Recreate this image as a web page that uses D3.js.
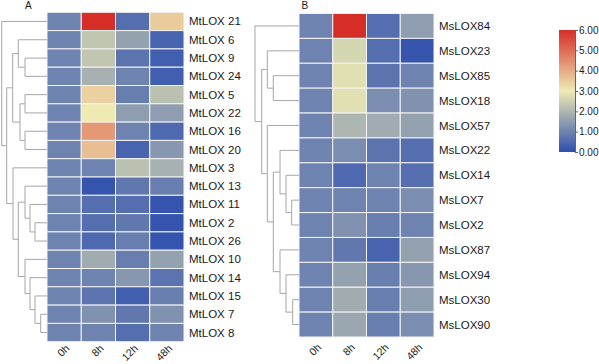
<!DOCTYPE html>
<html>
<head>
<meta charset="utf-8">
<script src="https://cdn.jsdelivr.net/npm/d3@7"></script>
<style>
  body { margin: 0; background: #fff; }
  text { font-family: "Liberation Sans", Arial, sans-serif; fill: #1a1a1a; }
</style>
</head>
<body>
<div id="chart"></div>
<script>
// time points (columns)
const times = ["0h", "8h", "12h", "48h"];

// Panel A, rows in dendrogram order
const genesA = ["MtLOX 21", "MtLOX 6", "MtLOX 9", "MtLOX 24", "MtLOX 5", "MtLOX 22",
  "MtLOX 16", "MtLOX 20", "MtLOX 3", "MtLOX 13", "MtLOX 11", "MtLOX 2", "MtLOX 26",
  "MtLOX 10", "MtLOX 14", "MtLOX 15", "MtLOX 7", "MtLOX 8"];
const valuesA = [
  [1.0, 6.0, 0.6, 3.5],
  [1.0, 2.3, 1.6, 0.4],
  [1.0, 2.3, 0.7, 0.3],
  [1.0, 1.9, 1.0, 0.3],
  [1.0, 3.4, 0.9, 2.2],
  [1.0, 3.0, 1.5, 1.5],
  [1.0, 4.3, 1.0, 0.5],
  [1.0, 3.7, 0.4, 1.4],
  [1.0, 1.0, 2.2, 1.9],
  [1.0, 0.1, 0.8, 0.9],
  [1.0, 0.6, 0.6, 0.1],
  [1.0, 0.6, 0.8, 0.1],
  [1.0, 0.5, 0.9, 0.1],
  [1.0, 1.8, 0.9, 1.6],
  [1.0, 1.0, 1.4, 0.7],
  [1.0, 0.7, 0.3, 0.9],
  [1.0, 1.3, 0.8, 1.3],
  [1.0, 1.0, 0.6, 1.0]
];
// dendrogram A: [merge height, left, right]
const treeA = [45.3, "MtLOX 21",
  [40.3,
    [34.3, [28.7, "MtLOX 6", [22, "MtLOX 9", "MtLOX 24"]],
           [27, [22, "MtLOX 5", "MtLOX 22"], [22, "MtLOX 16", "MtLOX 20"]]],
    [34, "MtLOX 3",
      [28.7, [22, "MtLOX 13", [17, "MtLOX 11", [12, "MtLOX 2", "MtLOX 26"]]],
             [22, "MtLOX 10", [17, "MtLOX 14", [12, "MtLOX 15", [6.3, "MtLOX 7", "MtLOX 8"]]]]]]]];

// Panel B
const genesB = ["MsLOX84", "MsLOX23", "MsLOX85", "MsLOX18", "MsLOX57", "MsLOX22",
  "MsLOX14", "MsLOX7", "MsLOX2", "MsLOX87", "MsLOX94", "MsLOX30", "MsLOX90"];
const valuesB = [
  [1.0, 6.0, 0.6, 1.5],
  [1.0, 2.6, 0.6, 0.1],
  [1.0, 2.8, 0.7, 1.0],
  [1.0, 2.8, 1.2, 1.3],
  [1.0, 2.0, 1.8, 1.6],
  [1.0, 1.2, 0.7, 0.6],
  [1.0, 0.5, 1.0, 0.6],
  [1.0, 1.0, 1.0, 1.2],
  [1.0, 1.3, 0.9, 1.0],
  [1.0, 0.8, 0.4, 1.6],
  [1.0, 1.6, 0.9, 1.4],
  [1.0, 1.8, 0.9, 1.5],
  [1.0, 1.7, 0.9, 1.2]
];
const treeB = [44, "MsLOX84",
  [37.3,
    [31.7, "MsLOX23", [25.7, "MsLOX85", "MsLOX18"]],
    [31.7, "MsLOX57",
      [25.7, [19, "MsLOX22", [13, "MsLOX14", [7.3, "MsLOX7", "MsLOX2"]]],
             [19, "MsLOX87", [13, "MsLOX94", [6.3, "MsLOX30", "MsLOX90"]]]]]]];

// legend ticks
const legendTicks = [0, 1, 2, 3, 4, 5, 6];

const width = 599, height = 364;

const svg = d3.select("#chart").append("svg")
  .attr("width", width)
  .attr("height", height);

const color = d3.scaleLinear()
  .domain([0, 3, 6])
  .range(["#2e4fae", "#eeeab2", "#d62d27"]);

function panel(opts) {
  const { genes, values, tree, x0, x1, y0, y1, dendroLeft, labelX, colLabelY, title, titleX } = opts;

  const x = d3.scaleBand().domain(times).range([x0, x1]);
  const y = d3.scaleBand().domain(genes).range([y0, y1]);

  // cells
  const g = svg.append("g");
  values.forEach((row, i) => {
    g.selectAll(null)
      .data(row)
      .enter()
      .append("rect")
      .attr("x", (_, j) => x(times[j]))
      .attr("y", y(genes[i]))
      .attr("width", x.bandwidth())
      .attr("height", y.bandwidth())
      .attr("fill", d => color(d))
      .attr("stroke", "#f4f4f4")
      .attr("stroke-width", 1);
  });

  // row labels
  svg.append("g").selectAll("text")
    .data(genes)
    .enter()
    .append("text")
    .attr("x", labelX)
    .attr("y", d => y(d) + y.bandwidth() / 2)
    .attr("dy", "0.35em")
    .attr("font-size", 11.5)
    .text(d => d);

  // column labels
  svg.append("g").selectAll("text")
    .data(times)
    .enter()
    .append("text")
    .attr("transform", d => `translate(${x(d) + x.bandwidth() / 2 + 6},${colLabelY}) rotate(-45)`)
    .attr("text-anchor", "end")
    .attr("font-size", 10.5)
    .text(d => d);

  // dendrogram
  const root = d3.hierarchy(tree, d => Array.isArray(d) ? d.slice(1) : null);
  const hx = d3.scaleLinear().domain([0, tree[0]]).range([x0, dendroLeft]);
  root.eachAfter(n => {
    if (n.children) {
      n.h = n.data[0];
      n.yy = d3.mean(n.children, c => c.yy);
    } else {
      n.h = 0;
      n.yy = y(n.data) + y.bandwidth() / 2;
    }
  });
  svg.append("g").selectAll("path")
    .data(root.links())
    .enter()
    .append("path")
    .attr("d", l => `M${hx(l.target.h)},${l.target.yy}H${hx(l.source.h)}V${l.source.yy}`)
    .attr("fill", "none")
    .attr("stroke", "#a6a6a6")
    .attr("stroke-width", 1);

  svg.append("text")
    .attr("x", titleX)
    .attr("y", 8.5)
    .attr("font-size", 10)
    .text(title);
}

panel({ genes: genesA, values: valuesA, tree: treeA, x0: 47, x1: 184, y0: 12.3, y1: 341.7,
  dendroLeft: 1.7, labelX: 189, colLabelY: 349, title: "A", titleX: 25 });
panel({ genes: genesB, values: valuesB, tree: treeB, x0: 299, x1: 434, y0: 13.5, y1: 337,
  dendroLeft: 255, labelX: 439, colLabelY: 348, title: "B", titleX: 301.5 });

// colour legend
const defs = svg.append("defs");
const grad = defs.append("linearGradient")
  .attr("id", "legendGrad")
  .attr("x1", 0).attr("y1", 1).attr("x2", 0).attr("y2", 0);
grad.selectAll("stop")
  .data(d3.range(0, 6.01, 0.5))
  .enter()
  .append("stop")
  .attr("offset", d => d / 6)
  .attr("stop-color", d => color(d));

const ly = d3.scaleLinear().domain([0, 6]).range([152, 30]);
svg.append("rect")
  .attr("x", 559)
  .attr("y", ly(6))
  .attr("width", 16)
  .attr("height", ly(0) - ly(6))
  .attr("fill", "url(#legendGrad)");

const axis = svg.append("g")
  .attr("transform", "translate(575,0)")
  .call(d3.axisRight(ly).tickValues(legendTicks).tickFormat(d3.format(".2f")).tickSize(3).tickSizeOuter(0));
axis.select(".domain").attr("stroke", "#666");
axis.selectAll(".tick line").attr("stroke", "#666");
axis.selectAll(".tick text")
  .attr("x", 4)
  .attr("font-size", 10)
  .attr("font-family", "Liberation Sans, Arial, sans-serif")
  .attr("fill", "#222");
</script>
</body>
</html>
